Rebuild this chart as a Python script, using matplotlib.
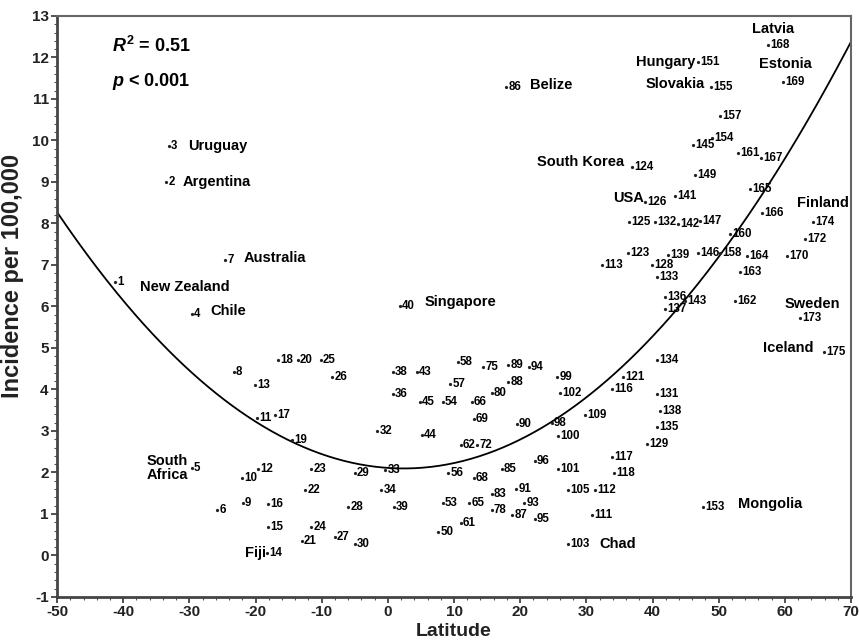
import matplotlib
matplotlib.use("Agg")
import matplotlib.pyplot as plt
from matplotlib.ticker import MultipleLocator
import numpy as np

plt.rcParams['font.family'] = ['Liberation Sans', 'DejaVu Sans']
plt.rcParams['axes.unicode_minus'] = False
plt.rcParams['mathtext.fontset'] = 'custom'
plt.rcParams['mathtext.it'] = 'Liberation Sans:italic:bold'
plt.rcParams['mathtext.rm'] = 'Liberation Sans:bold'
plt.rcParams['mathtext.bf'] = 'Liberation Sans:bold'

# ---- data ----
point_ids = [1, 2, 3, 4, 5, 6, 7, 8, 9, 10, 11, 12, 13, 14, 15, 16, 17, 18, 19, 20,
             21, 22, 23, 24, 25, 26, 27, 28, 29, 30, 32, 33, 34, 36, 38, 39, 40, 43, 44, 45,
             50, 53, 54, 56, 57, 58, 61, 62, 65, 66, 68, 69, 72, 75, 78, 80, 83, 85, 86, 87,
             88, 89, 90, 91, 93, 94, 95, 96, 98, 99, 100, 101, 102, 103, 105, 109, 111, 112, 113, 116,
             117, 118, 121, 123, 124, 125, 126, 128, 129, 131, 132, 133, 134, 135, 136, 137, 138, 139, 141, 142,
             143, 145, 146, 147, 149, 151, 153, 154, 155, 157, 158, 160, 161, 162, 163, 164, 165, 166, 167, 168,
             169, 170, 172, 173, 174, 175]
latitude = [-41.2, -33.5, -33.1, -29.6, -29.6, -25.8, -24.6, -23.25, -21.9, -22.0, -19.8, -19.6, -20.1, -18.3, -18.1, -18.1, -17.1, -16.6, -14.5, -13.6,
            -13.0, -12.5, -11.6, -11.6, -10.1, -8.4, -8.0, -6.0, -5.0, -5.0, -1.6, -0.4, -1.0, 0.8, 0.8, 0.9, 1.8, 4.4, 5.2, 4.9,
            7.6, 8.3, 8.3, 9.1, 9.4, 10.6, 11.05, 11.05, 12.3, 12.7, 13.0, 13.0, 13.5, 14.4, 15.7, 15.7, 15.7, 17.25, 17.9, 18.8,
            18.2, 18.2, 19.5, 19.4, 20.6, 21.3, 22.2, 22.2, 24.8, 25.6, 25.7, 25.7, 26.0, 27.2, 27.2, 29.8, 30.85, 31.3, 32.4, 33.9,
            33.9, 34.2, 35.5, 36.3, 36.9, 36.4, 38.9, 39.9, 39.2, 40.7, 40.4, 40.7, 40.7, 40.7, 41.9, 41.9, 41.1, 42.3, 43.4, 43.85,
            44.9, 46.1, 46.9, 47.2, 46.4, 46.9, 47.6, 49.0, 48.8, 50.2, 50.2, 51.7, 52.9, 52.5, 53.2, 54.3, 54.7, 56.5, 56.4, 57.45,
            59.7, 60.3, 63.0, 62.3, 64.3, 65.9]
incidence = [6.60, 8.99, 9.86, 5.81, 2.11, 1.10, 7.13, 4.41, 1.27, 1.87, 3.32, 2.09, 4.12, 0.06, 0.69, 1.25, 3.39, 4.70, 2.79, 4.70,
             0.35, 1.58, 2.09, 0.69, 4.70, 4.29, 0.45, 1.17, 1.99, 0.28, 3.01, 2.07, 1.58, 3.90, 4.41, 1.17, 6.02, 4.41, 2.91, 3.71,
             0.57, 1.27, 3.71, 1.99, 4.14, 4.67, 0.79, 2.67, 1.27, 3.71, 1.87, 3.30, 2.67, 4.53, 1.10, 3.92, 1.49, 2.09, 11.29, 0.98,
             4.19, 4.60, 3.18, 1.61, 1.27, 4.53, 0.88, 2.28, 3.20, 4.29, 2.89, 2.09, 3.92, 0.28, 1.58, 3.39, 0.98, 1.58, 7.01, 4.00,
             2.38, 1.99, 4.29, 7.30, 9.36, 8.03, 8.51, 7.01, 2.69, 3.90, 8.03, 6.72, 4.70, 3.10, 6.24, 5.93, 3.47, 7.23, 8.66, 7.98,
             6.12, 9.89, 7.30, 8.05, 9.16, 11.89, 1.17, 10.06, 11.29, 10.59, 7.30, 7.74, 9.69, 6.12, 6.82, 7.21, 8.82, 8.25, 9.57, 12.30,
             11.41, 7.21, 7.62, 5.73, 8.03, 4.91]

country_names = ["Uruguay", "Argentina", "New Zealand", "Australia", "Chile", "Singapore",
                 "Belize", "South Korea", "USA", "Hungary", "Slovakia", "Latvia", "Estonia",
                 "Finland", "Sweden", "Iceland", "Mongolia", "Chad", "Fiji", "South\nAfrica"]
country_lat = [-30.2, -30.96, -37.46, -21.74, -26.88, 5.6, 21.5, 22.5, 34.0, 37.5, 38.9, 55.0, 56.1,
               61.8, 60.0, 56.7, 52.9, 31.9, -21.6, -36.4]
country_inc = [9.86, 8.99, 6.46, 7.18, 5.88, 6.10, 11.34, 9.47, 8.61, 11.89, 11.36, 12.69, 11.85,
               8.49, 6.05, 4.99, 1.25, 0.28, 0.06, 2.11]

# quadratic regression fit: incidence = a*lat^2 + b*lat + c
fit_coef = [0.00225, -0.0108, 2.11]
r_squared = "0.51"
p_value = "0.001"

x_ticks = [-50, -40, -30, -20, -10, 0, 10, 20, 30, 40, 50, 60, 70]
y_ticks = list(range(-1, 14))

# ---- figure ----
fig = plt.figure(figsize=(8.59, 6.44), dpi=100)
ax = fig.add_axes([0.0664, 0.0730, 0.9243, 0.9022])

xs = np.linspace(-50, 70, 400)
ax.plot(xs, np.polyval(fit_coef, xs), color='black', lw=1.3, zorder=2)

ax.plot(latitude, incidence, linestyle='none', marker='o', markersize=1.3,
        color='#222222', zorder=3)
for pid, lx, ly in zip(point_ids, latitude, incidence):
    ax.annotate(str(pid), (lx, ly), xytext=(1.5, 0), textcoords='offset points',
                ha='left', va='center', fontsize=8.3, fontweight='bold', color='black',
                zorder=4)

for name, lx, ly in zip(country_names, country_lat, country_inc):
    ax.text(lx, ly, name, ha='left', va='center', fontsize=10.5, fontweight='bold',
            color='black', linespacing=1.0, zorder=4)

ax.text(-41.7, 12.28, r'$R^2$ = ' + r_squared, ha='left', va='center', fontsize=13,
        fontweight='bold')
ax.text(-41.7, 11.41, r'$p$ < ' + p_value, ha='left', va='center', fontsize=13,
        fontweight='bold')

ax.set_xlim(-50, 70)
ax.set_ylim(-1, 13)
ax.set_xticks(x_ticks)
ax.set_yticks(y_ticks)
ax.xaxis.set_minor_locator(MultipleLocator(2))
ax.yaxis.set_minor_locator(MultipleLocator(0.2))
ax.tick_params(axis='both', which='major', direction='out', length=4, width=1.2,
               labelsize=11, colors='#333333', labelcolor='#222222', pad=2)
ax.tick_params(axis='both', which='minor', direction='out', length=2, width=0.8,
               colors='#555555')
for lab in ax.get_xticklabels() + ax.get_yticklabels():
    lab.set_fontweight('bold')

for side in ['left', 'bottom']:
    ax.spines[side].set_linewidth(2.0)
    ax.spines[side].set_color('#444444')
for side in ['top', 'right']:
    ax.spines[side].set_linewidth(1.5)
    ax.spines[side].set_color('#666666')

ax.set_xlabel('Latitude', fontsize=14, fontweight='bold', color='#222222')
ax.xaxis.set_label_coords(0.5, -0.045)
ax.set_ylabel('Incidence per 100,000', fontsize=17, fontweight='bold', color='#222222')
ax.yaxis.set_label_coords(-0.041, 0.552)

fig.savefig('out.png', dpi=100)
